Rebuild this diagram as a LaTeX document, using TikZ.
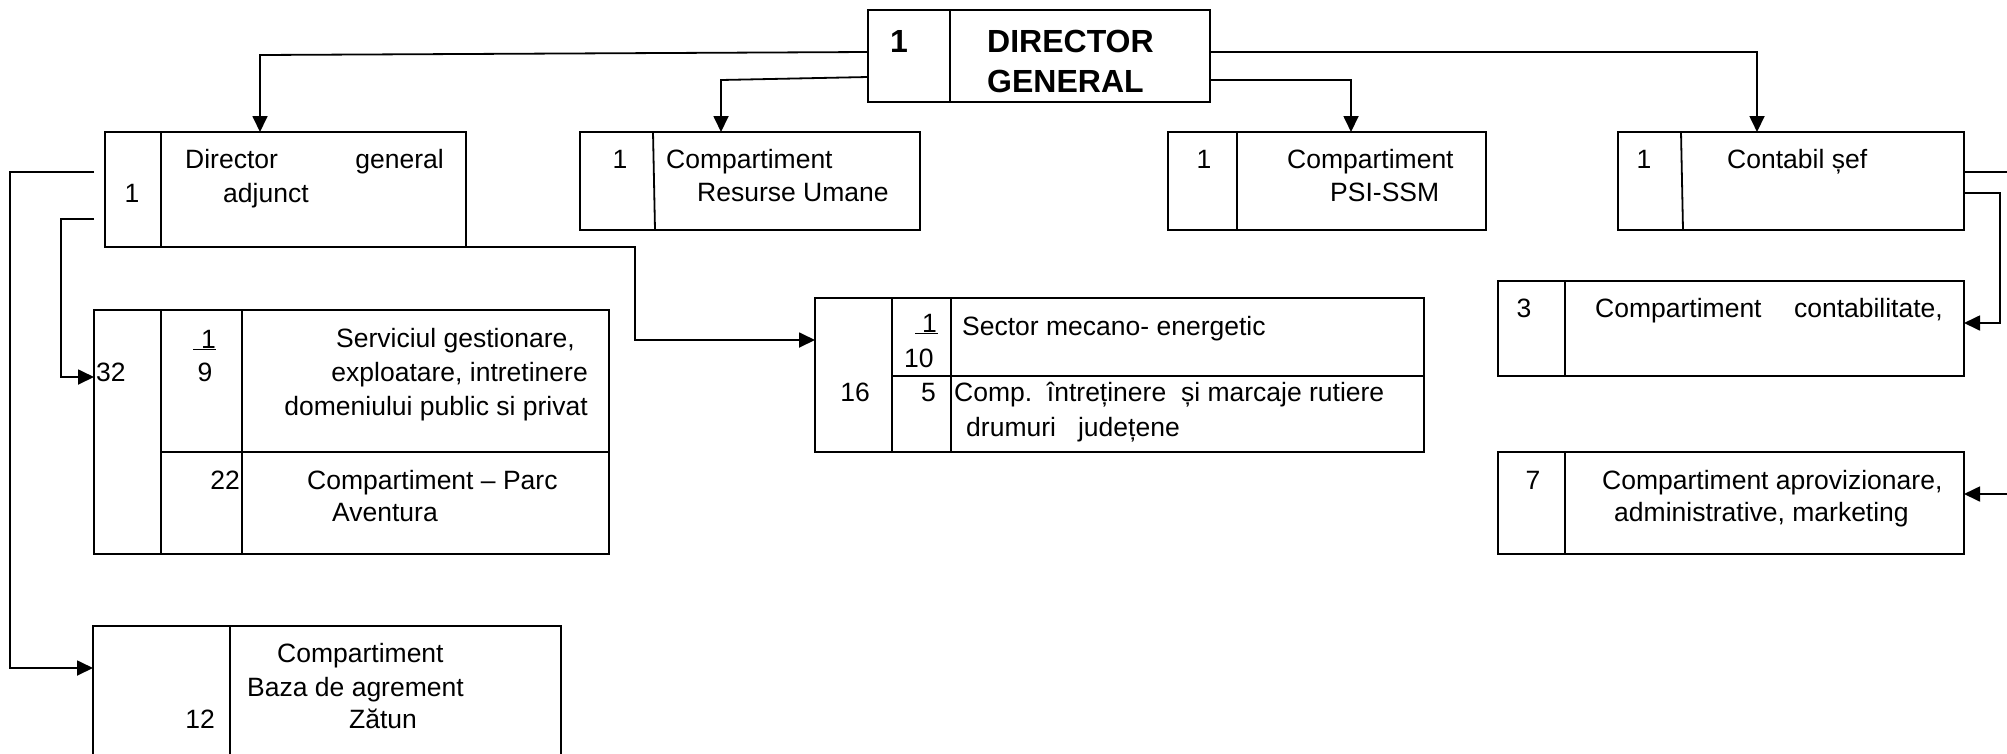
\documentclass[tikz,border=0pt]{standalone}
\usepackage{fontspec}
\setmainfont{Liberation Sans}
\usetikzlibrary{arrows.meta}
\begin{document}
\begin{tikzpicture}[x=1pt,y=-1pt,
  box/.style={draw, line width=1.8pt, rectangle, inner sep=0pt, outer sep=0pt, anchor=north west},
  ln/.style={line width=1.8pt},
  arr/.style={line width=1.8pt, -{Triangle[length=16pt,width=15pt]}},
  t/.style={inner sep=0pt, anchor=base west, font=\fontsize{26.5}{32}\selectfont},
  tr/.style={t, anchor=base east},
  tc/.style={t, anchor=base},
  tb/.style={t, font=\bfseries\fontsize{32}{38}\selectfont}]
\useasboundingbox (0,0) rectangle (2007,753);

% boxes
\node[box, minimum width=342pt, minimum height=92pt] (dg) at (868,10) {};
\node[box, minimum width=361pt, minimum height=115pt] (dga) at (105,132) {};
\node[box, minimum width=340pt, minimum height=98pt] (cru) at (580,132) {};
\node[box, minimum width=318pt, minimum height=98pt] (psi) at (1168,132) {};
\node[box, minimum width=346pt, minimum height=98pt] (cs) at (1618,132) {};
\node[box, minimum width=515pt, minimum height=244pt] (sg) at (94,310) {};
\node[box, minimum width=609pt, minimum height=154pt] (me) at (815,298) {};
\node[box, minimum width=466pt, minimum height=95pt] (cc) at (1498,281) {};
\node[box, minimum width=466pt, minimum height=102pt] (ca) at (1498,452) {};
\draw[ln] (93,760) -- (93,626) -- (561,626) -- (561,760);
\coordinate (bz) at (93,668);

% dividers
\draw[ln] (950,10) -- (950,102);
\draw[ln] (161,132) -- (161,247);
\draw[ln] (653,132) -- (655,230);
\draw[ln] (1237,132) -- (1237,230);
\draw[ln] (1681,132) -- (1683,230);
\draw[ln] (161,310) -- (161,554);
\draw[ln] (242,310) -- (242,554);
\draw[ln] (161,452) -- (609,452);
\draw[ln] (892,298) -- (892,452);
\draw[ln] (951,298) -- (951,452);
\draw[ln] (892,376) -- (1424,376);
\draw[ln] (1565,281) -- (1565,376);
\draw[ln] (1565,452) -- (1565,554);
\draw[ln] (230,626) -- (230,760);

% connector helper coordinates
\coordinate (k1) at (260,55);
\coordinate (k2) at (721,80);
\coordinate (k3) at (1757,52);
\coordinate (k4) at (1351,80);
\coordinate (a1) at (94,172);
\coordinate (a2) at (10,172);
\coordinate (b1) at (94,219);
\coordinate (b2) at (61,219);
\coordinate (b3) at (61,377);
\coordinate (c1) at (455,247);
\coordinate (c2) at (635,247);
\coordinate (c3) at (635,340);
\coordinate (d1) at (2010,172);
\coordinate (e1) at (2000,193);
\coordinate (e2) at (2000,323);
\coordinate (f1) at (2010,494);

% connectors
\draw[arr] (dg.west |- 0,52) -- (k1) -- (k1 |- dga.north);
\draw[arr] (dg.west |- 0,77) -- (k2) -- (k2 |- cru.north);
\draw[arr] (dg.east |- k3) -- (k3) -- (k3 |- cs.north);
\draw[arr] (dg.east |- k4) -- (k4) -- (k4 |- psi.north);
\draw[arr] (a1) -- (a2) -- (a2 |- bz) -- (bz);
\draw[arr] (b1) -- (b2) -- (b3) -- (sg.north west |- b3);
\draw[arr] (c1) -- (c2) -- (c3) -- (me.west |- c3);
\draw[ln] (cs.east |- d1) -- (d1);
\draw[arr] (cs.east |- e1) -- (e1) -- (e2) -- (cc.east |- e2);
\draw[arr] (f1) -- (ca.east |- f1);

% texts
\node[tb] (dg1) at (890,52) {1};
\node[tb] (dg2) at (987,52) {DIRECTOR};
\node[tb] (dg3) at (987,92) {GENERAL};

\node[tc] (dga1) at (132,202) {1};
\node[t] (dga2) at (185,168) {Director};
\node[tr] (dga3) at (444,168) {general};
\node[t] (dga4) at (223,202) {adjunct};

\node[tc] (cru1) at (620,168) {1};
\node[t] (cru2) at (666,168) {Compartiment};
\node[t] (cru3) at (697,201) {Resurse Umane};

\node[tc] (psi1) at (1204,168) {1};
\node[t] (psi2) at (1287,168) {Compartiment};
\node[t] (psi3) at (1330,201) {PSI-SSM};

\node[tc] (cs1) at (1644,168) {1};
\node[t] (cs2) at (1727,168) {Contabil șef};

\node[t] (sg1) at (96,381) {32};
\node[tr] (sg2) at (216,348) {\underline{\kern8pt 1}};
\node[tc] (sg3) at (205,381) {9};
\node[t] (sg4) at (336,347) {Serviciul gestionare,};
\node[tr] (sg5) at (588,381) {exploatare, intretinere};
\node[tr] (sg6) at (588,415) {domeniului public si privat};
\node[tr] (sg7) at (240,489) {22};
\node[t] (sg8) at (307,489) {Compartiment – Parc};
\node[t] (sg9) at (332,521) {Aventura};

\node[tr] (me1) at (938,332) {\underline{\kern7pt 1\kern1pt}};
\node[t] (me2) at (904,367) {10};
\node[t] (me3) at (962,335) {Sector mecano- energetic};
\node[tc] (me4) at (855,401) {16};
\node[tr] (me5) at (936,401) {5};
\node[t] (me6) at (954,401) {Comp.\ \ întreținere\ \ și marcaje rutiere};
\node[t] (me7) at (966,436) {drumuri\ \ \ județene};

\node[tc] (cc1) at (1524,317) {3};
\node[t] (cc2) at (1595,317) {Compartiment};
\node[tr] (cc3) at (1943,317) {contabilitate,};

\node[tc] (ca1) at (1533,489) {7};
\node[t] (ca2) at (1602,489) {Compartiment aprovizionare,};
\node[t] (ca3) at (1614,521) {administrative, marketing};

\node[t] (bz1) at (277,662) {Compartiment};
\node[t] (bz2) at (247,696) {Baza de agrement};
\node[t] (bz3) at (349,728) {Zătun};
\node[tr] (bz4) at (215,728) {12};
\end{tikzpicture}
\end{document}
